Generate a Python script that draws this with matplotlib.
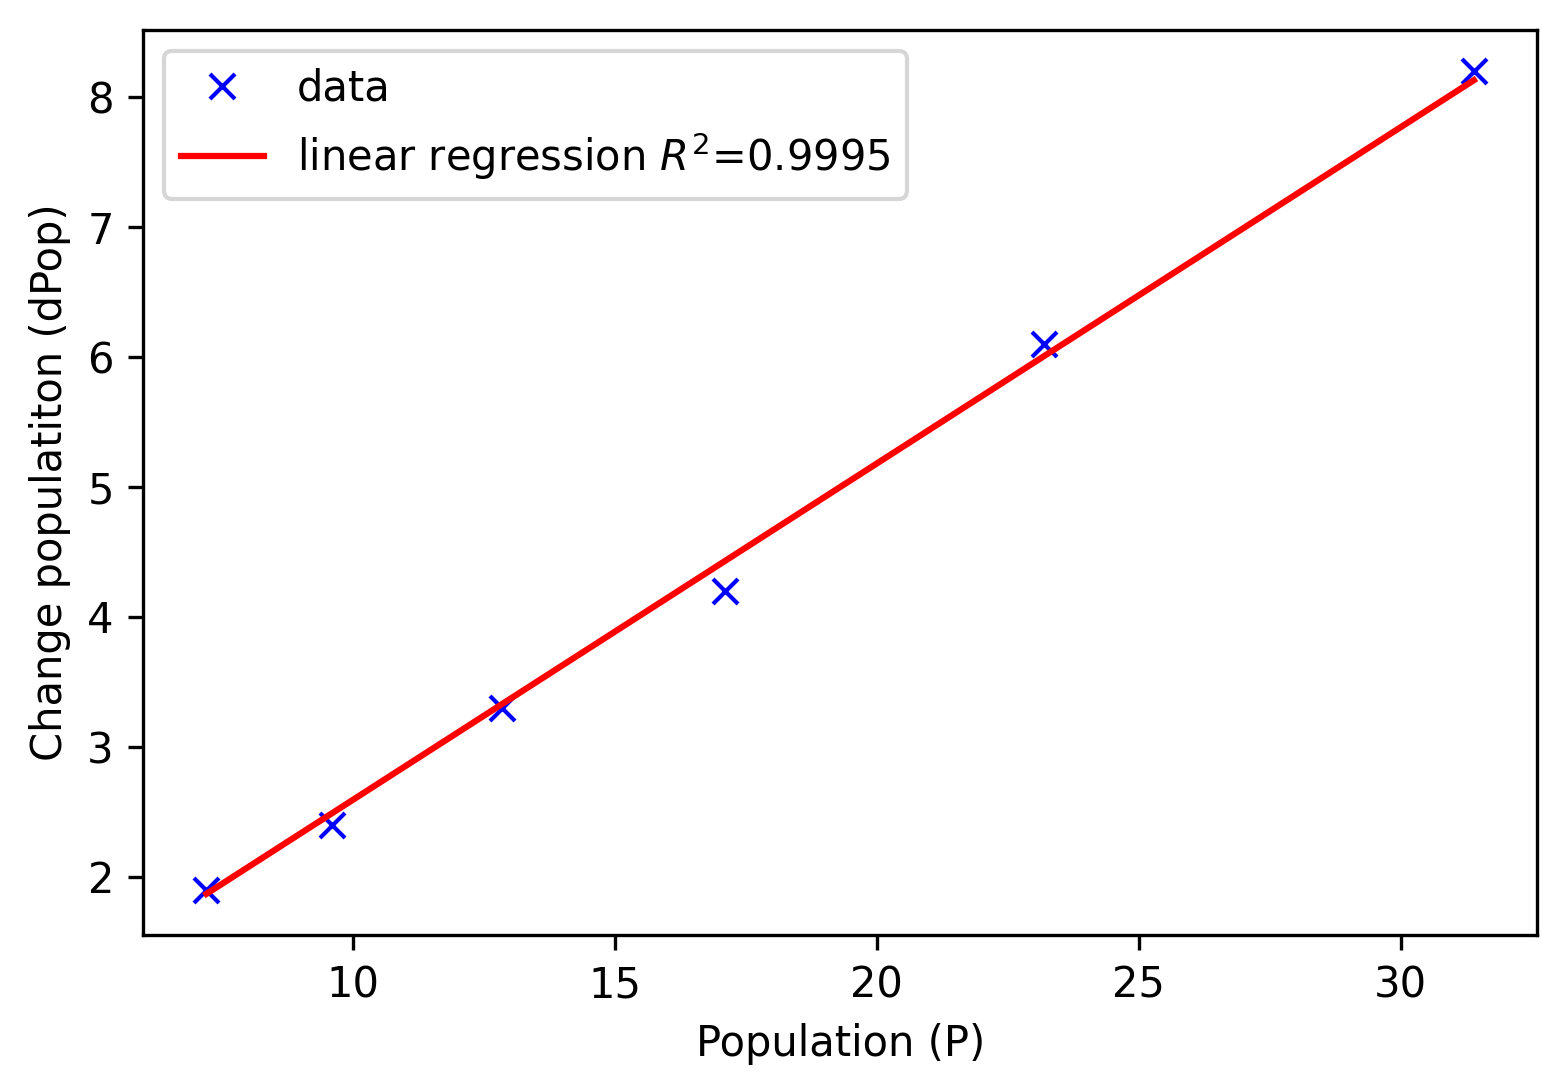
import numpy as np
import matplotlib
matplotlib.use("Agg")
import matplotlib.pyplot as plt

population = [7.2, 9.6, 12.85, 17.1, 23.2, 31.4]
dpop = [1.9, 2.4, 3.3, 4.2, 6.1, 8.2]
reg_slope = 0.2587
reg_intercept = 0.007
r2_label = "0.9995"

fig = plt.figure(figsize=(1567/300, 1091/300), dpi=300)
ax = fig.add_axes([0.0913, 0.143, 0.8897, 0.8295])
x = np.array(population); y = np.array(dpop)
ax.plot(x, y, 'bx', label='data')
ax.plot(x, reg_slope*x + reg_intercept, 'r-', label=r'linear regression $R^2$=' + r2_label)
ax.set_xlabel('Population (P)')
ax.set_ylabel('Change populatiton (dPop)')
ax.legend(loc='upper left')
fig.savefig('out.png', dpi=300)
